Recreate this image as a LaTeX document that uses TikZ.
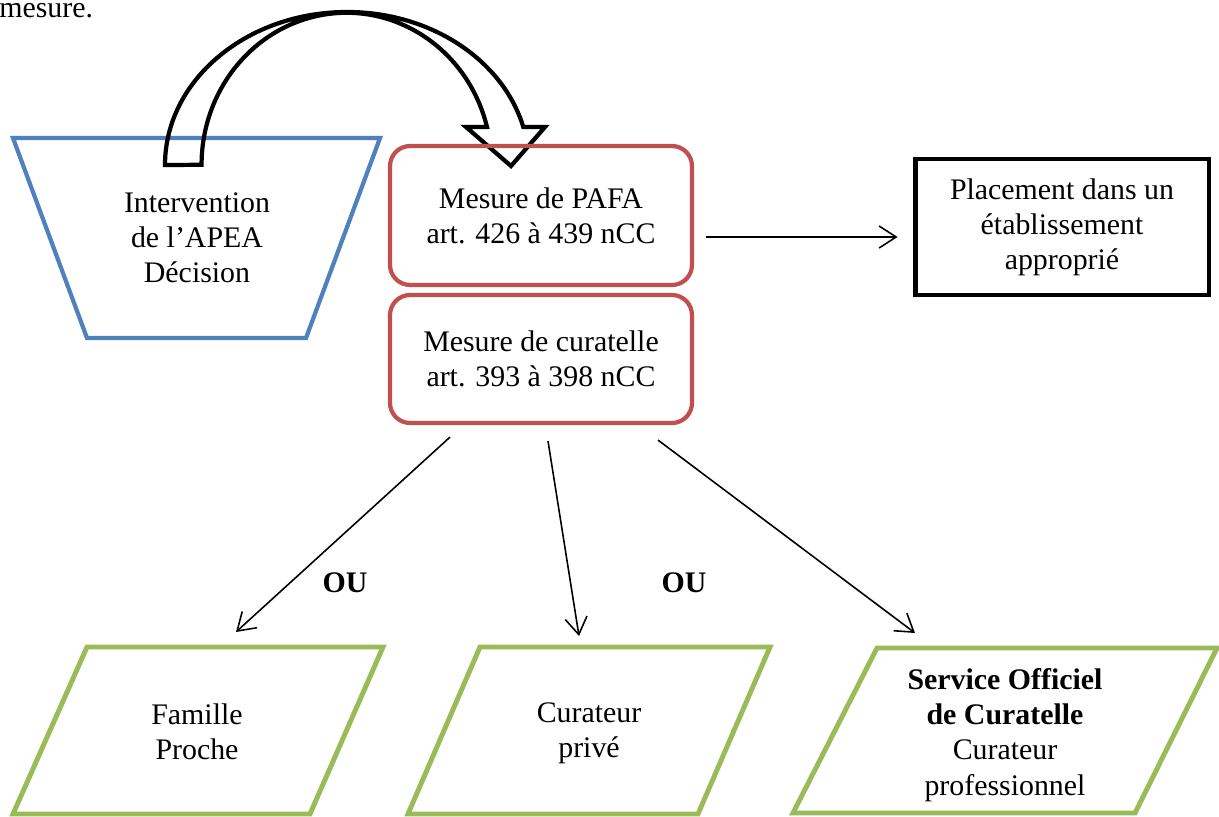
\documentclass[tikz,border=0pt]{standalone}
\usepackage{fontspec}
\setmainfont{Liberation Serif}
\usepackage{tikz}
\usetikzlibrary{positioning,calc,arrows.meta}

\definecolor{apeablue}{RGB}{79,129,189}
\definecolor{mesred}{RGB}{192,80,77}
\definecolor{curgreen}{RGB}{155,187,89}

\begin{document}
\begin{tikzpicture}[x=0.02cm,y=0.02cm,
    font=\fontsize{17}{20}\selectfont,
    >={Straight Barb[length=3.4mm,width=4.4mm]},
    redbox/.style={draw=mesred,line width=2.4pt,rounded corners=0.4cm,minimum width=6.04cm,align=center},
    greenbox/.style={curgreen,line width=2.8pt},
    txt/.style={align=center},
    link/.style={->,line width=0.9pt}]
\useasboundingbox (0,0) rectangle (1219,-817);

% End of the text above
\node[anchor=base west,inner sep=0pt] (prev) at (-1,-18) {mesure.};

% APEA
\draw[apeablue,line width=2.4pt] (13,-138) -- (380,-138) -- (306,-338) -- (87,-338) -- cycle;
\node[txt] (apea) at (197,-238) {Intervention\\de l’APEA\\Décision};

% Curved block arrow
\draw[line width=2.4pt] (165,-165) arc[start angle=180,end angle=14.4,x radius=182,y radius=153]
    -- (545,-127) -- (511,-166) -- (466,-127) -- (487,-127)
    arc[start angle=14.4,end angle=180,x radius=145,y radius=152] -- cycle;

% Mesures
\node[redbox,minimum height=2.78cm] (pafa) at (541,-215.5) {Mesure de PAFA\\art. 426 à 439 nCC};
\node[redbox,minimum height=2.56cm] (cur) at (541,-359) {Mesure de curatelle\\art. 393 à 398 nCC};

% Placement
\node[draw,line width=2.8pt,minimum width=5.88cm,minimum height=2.72cm,align=center] (place) at (1062,-227)
    {Placement dans un\\établissement\\approprié};
\coordinate (pa) at ($(pafa.east)+(12,-21.5)$);
\coordinate (pb) at ($(place.west)+(-15,-10)$);
\draw[link] (pa) -- (pb);

% Curateurs
\draw[greenbox] (87,-647) -- (383,-647) -- (310,-814) -- (13,-814) -- cycle;
\node[txt] (fam) at (197,-732) {Famille\\Proche};
\draw[greenbox] (480,-647) -- (770,-647) -- (698,-814) -- (408,-814) -- cycle;
\node[txt] (priv) at (589,-733) {Curateur\\privé};
\draw[greenbox] (877,-648) -- (1217,-648) -- (1135,-813) -- (793,-813) -- cycle;
\node[txt] (serv) at (1005,-735) {\textbf{Service Officiel}\\\textbf{de Curatelle}\\Curateur\\professionnel};

% Links from the curatelle
\coordinate (c1) at ($(cur.south)+(-91,-12)$);
\coordinate (c2) at ($(cur.south)+(7,-16)$);
\coordinate (c3) at ($(cur.south)+(117,-15)$);
\coordinate (f1) at ($(fam)+(39,100)$);
\coordinate (f2) at ($(priv)+(-10,97)$);
\coordinate (f3) at ($(serv)+(-90,102)$);
\draw[link] (c1) -- (f1);
\draw[link] (c2) -- (f2);
\draw[link] (c3) -- (f3);

\node (ou1) at (345,-583) {\textbf{OU}};
\node (ou2) at (684,-583) {\textbf{OU}};
\end{tikzpicture}
\end{document}
